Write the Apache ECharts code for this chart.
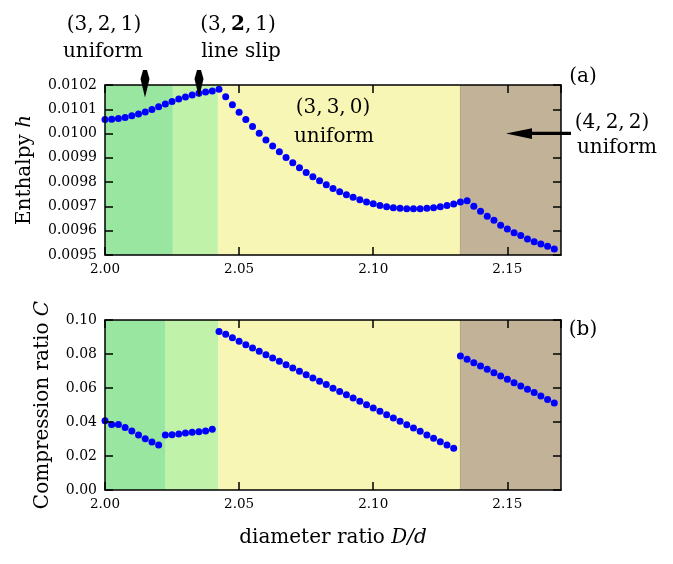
<!DOCTYPE html>
<html>
<head>
<meta charset="utf-8">
<script src="https://cdn.jsdelivr.net/npm/echarts@6/dist/echarts.min.js"></script>
<style>
html,body{margin:0;padding:0;background:#fff;}
#c{width:673px;height:564px;}
</style>
</head>
<body>
<div id="c"></div>
<script>
// diameter ratio D/d
const D = [2.0000,2.0025,2.0050,2.0075,2.0100,2.0125,2.0150,2.0175,2.0200,2.0225,
  2.0250,2.0275,2.0300,2.0325,2.0350,2.0375,2.0400,2.0425,2.0450,2.0475,
  2.0500,2.0525,2.0550,2.0575,2.0600,2.0625,2.0650,2.0675,2.0700,2.0725,
  2.0750,2.0775,2.0800,2.0825,2.0850,2.0875,2.0900,2.0925,2.0950,2.0975,
  2.1000,2.1025,2.1050,2.1075,2.1100,2.1125,2.1150,2.1175,2.1200,2.1225,
  2.1250,2.1275,2.1300,2.1325,2.1350,2.1375,2.1400,2.1425,2.1450,2.1475,
  2.1500,2.1525,2.1550,2.1575,2.1600,2.1625,2.1650,2.1675];
// enthalpy h
const H = [0.010058,0.010059,0.010062,0.010066,0.010073,0.010081,0.010089,0.010099,0.010110,0.010122,
  0.010132,0.010142,0.010151,0.010159,0.010166,0.010171,0.010175,0.010182,0.010152,0.010119,
  0.010088,0.010058,0.010029,0.010001,0.009974,0.009949,0.009925,0.009901,0.009880,0.009859,
  0.009840,0.009822,0.009806,0.009789,0.009774,0.009760,0.009748,0.009738,0.009727,0.009718,
  0.009711,0.009704,0.009699,0.009695,0.009692,0.009690,0.009690,0.009690,0.009692,0.009695,
  0.009699,0.009704,0.009710,0.009718,0.009723,0.009701,0.009680,0.009660,0.009643,0.009623,
  0.009607,0.009592,0.009580,0.009566,0.009555,0.009545,0.009536,0.009525];
// compression ratio C
const C = [0.0408,0.0386,0.0386,0.0367,0.0347,0.0324,0.0302,0.0282,0.0265,0.0324,
  0.0325,0.0329,0.0335,0.0339,0.0343,0.0347,0.0357,0.0933,0.0916,0.0896,
  0.0875,0.0855,0.0835,0.0816,0.0796,0.0776,0.0757,0.0737,0.0718,0.0698,
  0.0678,0.0659,0.0639,0.0620,0.0599,0.0580,0.0561,0.0541,0.0522,0.0502,
  0.0482,0.0463,0.0443,0.0424,0.0404,0.0384,0.0365,0.0345,0.0324,0.0304,
  0.0284,0.0265,0.0245,0.0788,0.0769,0.0749,0.0729,0.0710,0.0690,0.0671,
  0.0651,0.0631,0.0612,0.0592,0.0573,0.0553,0.0533,0.0512];
// phase region boundaries
const topBounds = [2.0000, 2.0253, 2.0421, 2.1325, 2.1700];
const bottomBounds = [2.0000, 2.0226, 2.0423, 2.1325, 2.1700];
const regionColors = ['#99e6a0', '#c1f2aa', '#f8f6b4', '#c2b298'];
const xTickLabels = ['2.00', '2.05', '2.10', '2.15'];
const hTickLabels = ['0.0095','0.0096','0.0097','0.0098','0.0099','0.0100','0.0101','0.0102'];
const cTickLabels = ['0.00','0.02','0.04','0.06','0.08','0.10'];

const FONT = 'DejaVu Serif';
const chart = echarts.init(document.getElementById('c'), null, {renderer: 'canvas'});

function areas(bounds) {
  const out = [];
  for (let i = 0; i < regionColors.length; i++) {
    out.push([{xAxis: bounds[i], itemStyle: {color: regionColors[i]}}, {xAxis: bounds[i + 1]}]);
  }
  // thin darker overlap strip at the last boundary
  out.push([{xAxis: bounds[3] - 0.0002, itemStyle: {color: '#b3a784'}}, {xAxis: bounds[3] + 0.0002}]);
  return out;
}

function baseAx(grid, pos, extra) {
  return Object.assign({
    type: 'value', gridIndex: grid, position: pos, z: 10,
    axisLine: {show: true, onZero: false, lineStyle: {color: '#000', width: 1.5}},
    axisTick: {show: true, inside: true, length: 8, lineStyle: {color: '#000', width: 1.5}},
    splitLine: {show: false}
  }, extra);
}
function xAx(grid, pos, labels) {
  return baseAx(grid, pos, {min: 2.00, max: 2.17, interval: 0.05,
    axisLabel: labels ? {show: true, margin: 7, color: '#000', fontFamily: FONT, fontSize: 13.5,
      showMaxLabel: false,
      formatter: v => v.toFixed(2)} : {show: false}});
}
function yAx(grid, pos, labels, min, max, interval, dec) {
  return baseAx(grid, pos, {min: min, max: max, interval: interval,
    axisLabel: labels ? {show: true, margin: 8, color: '#000', fontFamily: FONT, fontSize: 14,
      formatter: v => v.toFixed(dec)} : {show: false}});
}

const nameStyle = {color: '#000', fontFamily: FONT, fontSize: 20,
  rich: {i: {fontStyle: 'italic', fontFamily: FONT, fontSize: 20, color: '#000'}}};

const xa0 = xAx(0, 'bottom', true);
const xa1 = xAx(0, 'top', false);
const xa2 = xAx(1, 'bottom', true);
xa2.name = 'diameter ratio {i|D/d}';
xa2.nameLocation = 'middle';
xa2.nameGap = 38;
xa2.nameTextStyle = nameStyle;
const xa3 = xAx(1, 'top', false);

const ya0 = yAx(0, 'left', true, 0.0095, 0.0102, 0.0001, 4);
ya0.name = 'Enthalpy {i|h}';
ya0.nameLocation = 'middle';
ya0.nameGap = 70;
ya0.nameTextStyle = nameStyle;
const ya1 = yAx(0, 'right', false, 0.0095, 0.0102, 0.0001, 4);
const ya2 = yAx(1, 'left', true, 0, 0.10, 0.02, 2);
ya2.name = 'Compression ratio {i|C}';
ya2.nameLocation = 'middle';
ya2.nameGap = 52;
ya2.nameTextStyle = nameStyle;
const ya3 = yAx(1, 'right', false, 0, 0.10, 0.02, 2);

function arrowDown(x) {
  return {type: 'polygon', z: 100, shape: {points: [[x - 2, 70], [x + 2, 70], [x + 4.5, 79], [x, 97.5], [x - 4.5, 79]]},
    style: {fill: '#000'}};
}
function txt(x, y, text, rich) {
  const t = {type: 'text', z: 100, x: x, y: y,
    style: {text: text, fill: '#000', font: '20px "DejaVu Serif"', align: 'center', verticalAlign: 'middle'}};
  if (rich) t.style.rich = rich;
  return t;
}

chart.setOption({
  animation: false,
  backgroundColor: '#fff',
  grid: [
    {left: 105, top: 85, width: 456, height: 170, show: false},
    {left: 105, top: 320, width: 456, height: 170, show: false}
  ],
  xAxis: [xa0, xa1, xa2, xa3],
  yAxis: [ya0, ya1, ya2, ya3],
  series: [
    {type: 'scatter', xAxisIndex: 0, yAxisIndex: 0, z: 5, symbol: 'circle', symbolSize: 7,
      itemStyle: {color: '#0000ff', opacity: 1},
      data: D.map((d, i) => [d, H[i]]),
      markArea: {silent: true, data: areas(topBounds)}},
    {type: 'scatter', xAxisIndex: 2, yAxisIndex: 2, z: 5, symbol: 'circle', symbolSize: 7,
      itemStyle: {color: '#0000ff', opacity: 1},
      data: D.map((d, i) => [d, C[i]]),
      markArea: {silent: true, data: areas(bottomBounds)}}
  ],
  graphic: [
    txt(104, 25, '(3,\u20092,\u20091)'),
    txt(103, 52, 'uniform'),
    txt(238, 25, '{n|(3,\u2009}{b|2}{n|,\u20091)}', {
      n: {font: '20px "DejaVu Serif"', fill: '#000'},
      b: {font: 'bold 20px "DejaVu Serif"', fill: '#000'}}),
    txt(241, 52, 'line slip'),
    txt(333, 108, '(3,\u20093,\u20090)'),
    txt(334, 137, 'uniform'),
    txt(583, 77, '(a)'),
    txt(612, 123, '(4,\u20092,\u20092)'),
    txt(617, 148, 'uniform'),
    txt(583, 330, '(b)'),
    arrowDown(145),
    arrowDown(199),
    {type: 'rect', z: 100, shape: {x: 530, y: 131.8, width: 41, height: 3.2}, style: {fill: '#000'}},
    {type: 'polygon', z: 100, shape: {points: [[532, 128.3], [532, 139], [506, 133.4]]}, style: {fill: '#000'}}
  ]
});
</script>
</body>
</html>
